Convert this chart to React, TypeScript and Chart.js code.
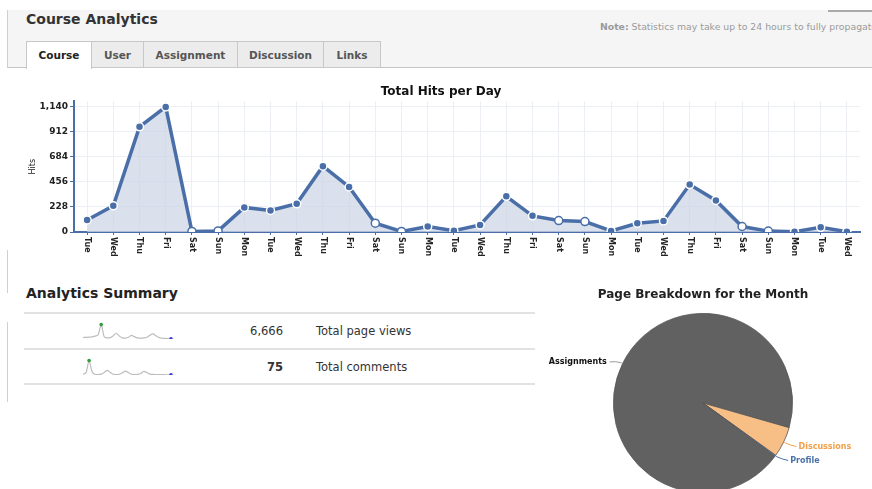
import React, { useEffect, useRef } from "react";
import { Chart, registerables } from "chart.js";

Chart.register(...registerables);

// ---------- data ----------
const days = [
  "Tue", "Wed", "Thu", "Fri", "Sat", "Sun", "Mon",
  "Tue", "Wed", "Thu", "Fri", "Sat", "Sun", "Mon",
  "Tue", "Wed", "Thu", "Fri", "Sat", "Sun", "Mon",
  "Tue", "Wed", "Thu", "Fri", "Sat", "Sun", "Mon",
  "Tue", "Wed",
];
const hits = [
  110, 239, 958, 1140, 5, 10, 224,
  196, 257, 600, 410, 80, 5, 50,
  12, 64, 325, 147, 104, 95, 10,
  80, 101, 432, 288, 50, 8, 3,
  43, 3,
];
const yTicks = [0, 228, 456, 684, 912, 1140];

const pieLabels = ["Assignments", "Discussions", "Profile"];
const pieValues = [94.3, 5.5, 0.2];
const pieColors = ["#616161", "#f7bf86", "#6b8cc0"];
const pieTextColors = ["#111111", "#f0a04b", "#4a72aa"];

const sparkViews = [40, 45, 50, 60, 80, 120, 400, 60, 30, 40, 90, 160, 80, 30, 25, 50, 100, 60, 30, 25, 30, 50, 100, 140, 90, 40, 20, 15, 10, 5];
const sparkComments = [20, 60, 400, 90, 15, 10, 25, 70, 130, 70, 20, 10, 20, 60, 110, 60, 20, 10, 15, 40, 100, 70, 25, 15, 10, 12, 10, 8, 6, 5];

const summaryRows = [
  { value: "6,666", label: "Total page views", bold: false },
  { value: "75", label: "Total comments", bold: true },
];
const tabs = ["Course", "User", "Assignment", "Discussion", "Links"];

const FONT = '"DejaVu Sans", Verdana, sans-serif';
const BLUE = "#4a6fa8";

function isWeekend(d: string) {
  return d === "Sat" || d === "Sun";
}

// ---------- main line chart ----------
function HitsChart() {
  const ref = useRef<HTMLCanvasElement>(null);
  useEffect(() => {
    const xLabels = {
      id: "xLabels",
      afterDraw(chart: any) {
        const { ctx, chartArea } = chart;
        const x = chart.scales.x;
        ctx.save();
        ctx.font = "bold 8px " + FONT;
        ctx.fillStyle = "#222";
        ctx.textAlign = "left";
        ctx.textBaseline = "middle";
        days.forEach((d, i) => {
          const px = x.getPixelForValue(i);
          ctx.save();
          ctx.translate(px, chartArea.bottom + 5);
          ctx.rotate(Math.PI / 2);
          ctx.fillText(d, 0, 0);
          ctx.restore();
        });
        ctx.restore();
      },
    };
    const chart = new Chart(ref.current!, {
      type: "line",
      data: {
        labels: days,
        datasets: [
          {
            data: hits,
            borderColor: BLUE,
            borderWidth: 3.5,
            backgroundColor: "rgba(205,214,230,0.75)",
            fill: "origin",
            tension: 0,
            pointRadius: 4,
            pointBorderWidth: 1.5,
            pointBackgroundColor: days.map((d) => (isWeekend(d) ? "#ffffff" : BLUE)),
            pointBorderColor: days.map((d) => (isWeekend(d) ? BLUE : "#ffffff")),
          },
        ],
      },
      options: {
        responsive: false,
        animation: false,
        layout: { padding: { left: 0, right: 12, top: 0, bottom: 0 } },
        plugins: {
          legend: { display: false },
          tooltip: { enabled: false },
          title: {
            display: true,
            text: "Total Hits per Day",
            color: "#111",
            font: { family: FONT, size: 12, weight: "bold" },
            padding: { top: 5, bottom: 2 },
          },
        },
        scales: {
          x: {
            offset: true,
            grid: { color: "#eceff4", tickLength: 3, tickColor: BLUE, drawOnChartArea: true },
            border: { color: BLUE, width: 2 },
            ticks: { display: false },
            afterFit(scale: any) {
              scale.height = 40;
            },
          },
          y: {
            min: 0,
            max: 1190,
            afterBuildTicks(scale: any) {
              scale.ticks = yTicks.map((v) => ({ value: v }));
            },
            grid: { color: "#eceff4", tickLength: 4, tickColor: BLUE },
            border: { color: BLUE, width: 2 },
            ticks: {
              color: "#222",
              font: { family: FONT, size: 9, weight: "bold" },
              padding: 2,
              callback: (v: any) => Number(v).toLocaleString("en-US"),
            },
            title: {
              display: true,
              text: "Hits",
              color: "#222",
              font: { family: FONT, size: 8 },
              padding: { top: 6, bottom: 0 },
            },
            afterFit(scale: any) {
              scale.width = 52;
            },
          },
        },
      },
      plugins: [xLabels],
    });
    return () => chart.destroy();
  }, []);
  return (
    <canvas
      ref={ref}
      width={850}
      height={192}
      style={{ position: "absolute", left: 22, top: 80, width: 850, height: 192 }}
    />
  );
}

// ---------- sparkline ----------
function Sparkline({ values, top }: { values: number[]; top: number }) {
  const ref = useRef<HTMLCanvasElement>(null);
  useEffect(() => {
    const maxI = values.indexOf(Math.max(...values));
    const last = values.length - 1;
    const chart = new Chart(ref.current!, {
      type: "line",
      data: {
        labels: values.map((_, i) => String(i)),
        datasets: [
          {
            data: values,
            borderColor: "#bdbdbd",
            borderWidth: 1.2,
            tension: 0.3,
            pointRadius: values.map((_, i) => (i === maxI || i === last ? 1.8 : 0)),
            pointBackgroundColor: values.map((_, i) => (i === maxI ? "#2e9e3a" : "#3b3bd6")),
            pointBorderWidth: 0,
          },
        ],
      },
      options: {
        responsive: false,
        animation: false,
        layout: { padding: 3 },
        plugins: { legend: { display: false }, tooltip: { enabled: false } },
        scales: {
          x: { display: false },
          y: { display: false, min: 0 },
        },
      },
    });
    return () => chart.destroy();
  }, []);
  return (
    <canvas
      ref={ref}
      width={96}
      height={26}
      style={{ position: "absolute", left: 79, top, width: 96, height: 26 }}
    />
  );
}

// ---------- pie ----------
function PieChart() {
  const ref = useRef<HTMLCanvasElement>(null);
  useEffect(() => {
    const pieLabelPlugin = {
      id: "pieLabels",
      afterDraw(chart: any) {
        const { ctx } = chart;
        const meta = chart.getDatasetMeta(0);
        ctx.save();
        ctx.font = "bold 8px " + FONT;
        ctx.textBaseline = "middle";
        meta.data.forEach((arc: any, i: number) => {
          const p = arc.getProps(["x", "y", "startAngle", "endAngle", "outerRadius"], true);
          const mid = (p.startAngle + p.endAngle) / 2;
          const cx = Math.cos(mid);
          const cy = Math.sin(mid);
          const ex = p.x + cx * (p.outerRadius + 1);
          const ey = p.y + cy * (p.outerRadius + 1);
          const right = cx >= 0;
          const bx = ex + (right ? 6 : -6);
          const by = ey + (right ? 3 : -2);
          const tx = bx + (right ? 6 : -6);
          const ty = by + 1;
          ctx.strokeStyle = i === 0 ? "#999" : pieTextColors[i];
          ctx.lineWidth = 1;
          ctx.beginPath();
          ctx.moveTo(ex, ey);
          ctx.quadraticCurveTo(bx, by, tx, ty);
          ctx.stroke();
          ctx.fillStyle = pieTextColors[i];
          ctx.textAlign = right ? "left" : "right";
          ctx.fillText(pieLabels[i], tx + (right ? 2 : -3), ty);
        });
        ctx.restore();
      },
    };
    const chart = new Chart(ref.current!, {
      type: "pie",
      data: {
        labels: pieLabels,
        datasets: [
          {
            data: pieValues,
            backgroundColor: pieColors,
            borderColor: "#555",
            borderWidth: 0.8,
          },
        ],
      },
      options: {
        responsive: false,
        animation: false,
        rotation: 126.5,
        layout: { padding: 0 },
        plugins: {
          legend: { display: false },
          tooltip: { enabled: false },
          title: {
            display: true,
            text: "Page Breakdown for the Month",
            color: "#222",
            font: { family: FONT, size: 12, weight: "bold" },
            padding: { top: 5, bottom: 10.6 },
          },
        },
      },
      plugins: [pieLabelPlugin],
    });
    return () => chart.destroy();
  }, []);
  return (
    <canvas
      ref={ref}
      width={406}
      height={210}
      style={{ position: "absolute", left: 500, top: 283, width: 406, height: 210 }}
    />
  );
}

// ---------- page ----------
const tabXs = [26, 91, 143, 237, 323, 380];

export default function App() {
  return (
    <div
      style={{
        position: "absolute",
        left: 0,
        top: 0,
        width: 872,
        height: 489,
        overflow: "hidden",
        background: "#fff",
        fontFamily: FONT,
      }}
    >
      {/* header band */}
      <div style={{ position: "absolute", left: 7, top: 10, width: 865, height: 58, background: "#f5f5f5", borderLeft: "1px solid #cfcfcf" }} />
      <div style={{ position: "absolute", left: 828, top: 10, width: 44, height: 2, background: "#aaa" }} />
      <div style={{ position: "absolute", left: 8, top: 67, width: 864, height: 1, background: "#c4c4c4" }} />
      <div style={{ position: "absolute", left: 26, top: 10, fontSize: 14, fontWeight: "bold", color: "#333", lineHeight: "18px" }}>
        Course Analytics
      </div>
      <div style={{ position: "absolute", left: 600, top: 21, fontSize: 9.3, color: "#9a9a9a", whiteSpace: "nowrap", lineHeight: "12px" }}>
        <b>Note:</b> Statistics may take up to 24 hours to fully propagate
      </div>
      {tabs.map((t, i) => {
        const active = i === 0;
        return (
          <div
            key={t}
            style={{
              position: "absolute",
              left: tabXs[i],
              top: 41,
              width: tabXs[i + 1] - tabXs[i] - 1,
              height: active ? 27 : 25,
              background: active ? "#fff" : "#ececec",
              border: "1px solid #c8c8c8",
              borderBottom: active ? "none" : "1px solid #c8c8c8",
              fontSize: 10.5,
              fontWeight: "bold",
              color: active ? "#222" : "#555",
              textAlign: "center",
              lineHeight: "26px",
            }}
          >
            {t}
          </div>
        );
      })}

      <HitsChart />

      {/* left edge lines */}
      <div style={{ position: "absolute", left: 7, top: 250, width: 1, height: 43, background: "#cfcfcf" }} />
      <div style={{ position: "absolute", left: 7, top: 322, width: 1, height: 80, background: "#cfcfcf" }} />

      {/* summary */}
      <div style={{ position: "absolute", left: 26, top: 284, fontSize: 14, fontWeight: "bold", color: "#222", lineHeight: "18px" }}>
        Analytics Summary
      </div>
      {[312, 348, 383].map((y) => (
        <div key={y} style={{ position: "absolute", left: 24, top: y, width: 511, height: 1.5, background: "#e2e2e2" }} />
      ))}
      {summaryRows.map((r, i) => {
        const cy = i === 0 ? 331 : 367;
        return (
          <React.Fragment key={r.label}>
            <div style={{ position: "absolute", left: 183, width: 100, top: cy - 8, textAlign: "right", fontSize: 11.5, fontWeight: r.bold ? "bold" : "normal", color: "#333", lineHeight: "16px" }}>
              {r.value}
            </div>
            <div style={{ position: "absolute", left: 316, top: cy - 8, fontSize: 11.5, color: "#333", lineHeight: "16px", whiteSpace: "nowrap" }}>
              {r.label}
            </div>
          </React.Fragment>
        );
      })}
      <Sparkline values={sparkViews} top={317} />
      <Sparkline values={sparkComments} top={353} />

      <PieChart />
    </div>
  );
}
